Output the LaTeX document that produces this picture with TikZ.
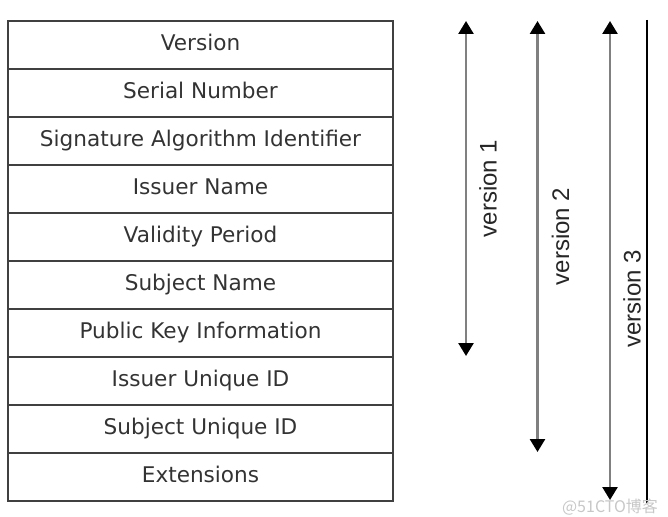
\documentclass[tikz,border=0pt]{standalone}
\usepackage{fontspec}
\setmainfont{DejaVu Sans}
\newfontfamily\verfont{Liberation Sans}
\newfontfamily\cjkfont{Noto Sans CJK SC}
\usetikzlibrary{arrows.meta}

\begin{document}
\begin{tikzpicture}[x=1pt,y=-1pt]
      \useasboundingbox (0,0) rectangle (668,516);

      \begin{scope}[every node/.style={rectangle,draw=black!75,line width=1.6pt,
          minimum width=385pt,minimum height=48pt,inner sep=0pt,
          text height=15.5pt,text depth=4.5pt,
          text=black!80,font=\fontsize{21.6}{25}\selectfont}]
        \node (1)  at (200.5,45)  {Version};
        \node (2)  at (200.5,93)  {Serial Number};
        \node (3)  at (200.5,141) {Signature Algorithm Identifier};
        \node (4)  at (200.5,189) {Issuer Name};
        \node (5)  at (200.5,237) {Validity Period};
        \node (6)  at (200.5,285) {Subject Name};
        \node (7)  at (200.5,333) {Public Key Information};
        \node (8)  at (200.5,381) {Issuer Unique ID};
        \node (9)  at (200.5,429) {Subject Unique ID};
        \node (10) at (200.5,477) {Extensions};
      \end{scope}

      \coordinate (v1t) at (466,21);
      \coordinate (v1b) at (466,356);
      \coordinate (v2t) at (537.5,21);
      \coordinate (v2b) at (537.5,452);
      \coordinate (v3t) at (610,21);
      \coordinate (v3b) at (610,500);
      \coordinate (et) at (647,20);
      \coordinate (eb) at (647,503);

      \begin{scope}[every node/.style={rotate=90,text=black!85,
          font=\verfont\fontsize{24}{27}\selectfont}]
        \begin{scope}[every edge/.style={draw=black!50,line width=2.6pt,
            {Triangle[length=13pt,width=15pt,color=black]}-{Triangle[length=13pt,width=15pt,color=black]}}]
          \path (v1t) edge node[yshift=-22pt] {version 1} (v1b);
          \path (v2t) edge node[yshift=-23pt] {version 2} (v2b);
          \path (v3t) edge node[pos=.58,yshift=-22pt] {version 3} (v3b);
        \end{scope}
      \end{scope}

      \draw[line width=2pt] (et) -- (eb);

      \node[text=black!22,font=\cjkfont\fontsize{16}{18}\selectfont] (wm) at (610,507) {@51CTO博客};

    \end{tikzpicture}
\end{document}
